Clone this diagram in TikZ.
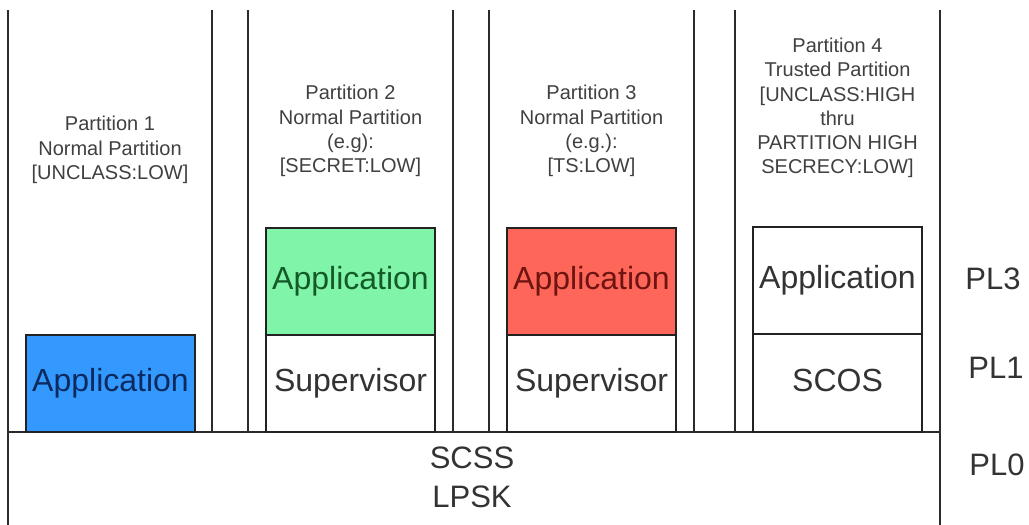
\documentclass[tikz,border=0pt]{standalone}
\usepackage{fontspec}
\setmainfont{Liberation Sans}
\definecolor{linec}{HTML}{2B2B2B}
\definecolor{boxc}{HTML}{222222}
\definecolor{ptxt}{HTML}{404040}
\definecolor{txt}{HTML}{333333}
\definecolor{bluefill}{HTML}{3399FF}
\definecolor{bluetxt}{HTML}{0C2A5E}
\definecolor{greenfill}{HTML}{80F5AA}
\definecolor{greentxt}{HTML}{145A28}
\definecolor{redfill}{HTML}{FF665A}
\definecolor{redtxt}{HTML}{6E1410}
\begin{document}
\begin{tikzpicture}[x=1pt,y=-1pt,
  wall/.style={draw=linec, line width=1.4pt},
  layerbox/.style={draw=boxc, line width=1.2pt, minimum width=169pt,
    inner sep=0pt, text height=23.4pt, text depth=6.7pt,
    font=\fontsize{32}{36}\selectfont, text=txt},
  ptext/.style={align=center, inner sep=0pt, text=ptxt,
    font=\fontsize{20}{24.2}\selectfont},
  pllabel/.style={inner sep=0pt, text=txt, font=\fontsize{31}{36}\selectfont},
  kernel/.style={align=center, inner sep=0pt, text=txt,
    font=\fontsize{31}{39}\selectfont}]
\useasboundingbox (0,0) rectangle (1029,525);

% partition walls and the kernel boundary
\draw[wall] (8,10) -- (8,525);
\draw[wall] (940,10) -- (940,525);
\foreach \x in {212,248,453,489,694,735}
  \draw[wall] (\x,10) -- (\x,432);
\draw[wall] (8,432) -- (940,432);

% partition 1
\node[layerbox, fill=bluefill, text=bluetxt, minimum height=97pt] (app1) at (110.5,383.5) {Application};
\node[ptext] (p1) at (110,150) {Partition 1\\Normal Partition\\{[}UNCLASS:LOW{]}};

% partition 2
\node[layerbox, fill=greenfill, text=greentxt, minimum height=107pt] (app2) at (350.5,281.5) {Application};
\node[layerbox, minimum height=97pt] (sup2) at (350.5,383.5) {Supervisor};
\node[ptext] (p2) at (350.5,131) {Partition 2\\Normal Partition\\(e.g):\\{[}SECRET:LOW{]}};

% partition 3
\node[layerbox, fill=redfill, text=redtxt, minimum height=107pt] (app3) at (591.5,281.5) {Application};
\node[layerbox, minimum height=97pt] (sup3) at (591.5,383.5) {Supervisor};
\node[ptext] (p3) at (591.5,131) {Partition 3\\Normal Partition\\(e.g.):\\{[}TS:LOW{]}};

% partition 4
\node[layerbox, minimum height=107pt] (app4) at (837.5,280.5) {Application};
\node[layerbox, minimum height=98pt] (scos) at (837.5,383) {SCOS};
\node[ptext] (p4) at (837.5,108) {Partition 4\\Trusted Partition\\{[}UNCLASS:HIGH\\thru\\PARTITION HIGH\\SECRECY:LOW{]}};

% kernel
\node[kernel] (kern) at (472,477) {SCSS\\LPSK};

% privilege levels
\node[pllabel] (pl3) at (993,279) {PL3};
\node[pllabel] (pl1) at (996,368) {PL1};
\node[pllabel] (pl0) at (997,465) {PL0};
\end{tikzpicture}
\end{document}
